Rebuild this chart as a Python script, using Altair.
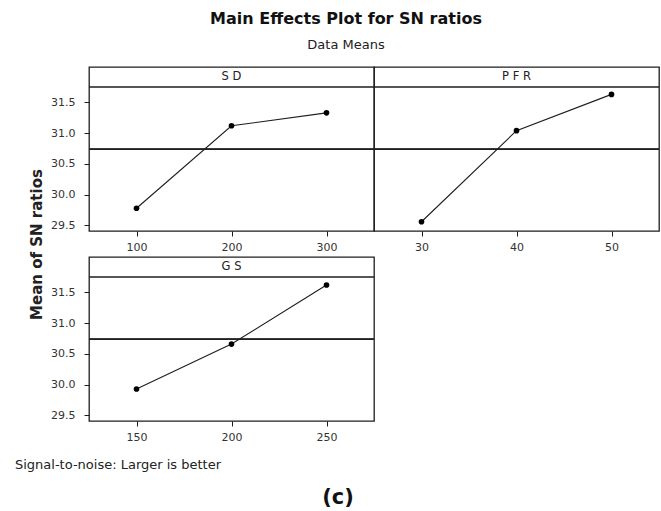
import altair as alt
import pandas as pd

# ---- data ----
factors = ["SD", "PFR", "GS"]
sd_levels = [100, 200, 300]
sd_sn = [29.78, 31.12, 31.33]
pfr_levels = [30, 40, 50]
pfr_sn = [29.56, 31.04, 31.63]
gs_levels = [150, 200, 250]
gs_sn = [29.93, 30.66, 31.62]
grand_mean = 30.74
y_ticks = [29.5, 30.0, 30.5, 31.0, 31.5]
y_domain = [29.41, 31.75]
x_domains = {"SD": [50, 350], "PFR": [25, 55], "GS": [125, 275]}

FONT = "DejaVu Sans"
INK = "#1e1e1e"
PW, PH, HH = 285, 144, 20
BOX = alt.ViewBackground(stroke=INK, strokeWidth=1.3)
NOBOX = alt.ViewBackground(strokeOpacity=0)


def panel(name, levels, sn, show_y):
    df = pd.DataFrame({"level": levels, "sn": sn})
    x = alt.X(
        "level:Q",
        scale=alt.Scale(domain=x_domains[name], nice=False, zero=False),
        axis=alt.Axis(values=levels, format="d", title=None, domain=False, grid=False,
                      tickSize=5, tickColor=INK, labelPadding=5, labelColor="#333",
                      labelFont=FONT, labelFontSize=11),
    )
    # data area sits below the header strip of the panel
    yscale = alt.Scale(domain=y_domain, range=[HH + PH, HH], nice=False, zero=False)
    if show_y:
        yax = alt.Axis(values=y_ticks, format=".1f", title=None, domain=False, grid=False,
                       tickSize=5, tickColor=INK, labelPadding=9, labelColor="#333",
                       labelFont=FONT, labelFontSize=11)
    else:
        yax = None
    y = alt.Y("sn:Q", scale=yscale, axis=yax)
    ym = alt.Y(datum=grand_mean, scale=yscale, axis=yax)
    base = alt.Chart(df).encode(x=x, y=y)
    line = base.mark_line(color=INK, strokeWidth=1.1)
    pts = base.mark_circle(color="black", size=32, opacity=1)
    mean = alt.Chart(df).mark_rule(color=INK, strokeWidth=1.3).encode(y=ym)
    strip = pd.DataFrame({"f": [" ".join(name)]})
    sep = alt.Chart(strip).mark_rule(color=INK, strokeWidth=1.3).encode(y=alt.value(HH))
    label = (
        alt.Chart(strip)
        .mark_text(font=FONT, fontSize=11.5, color="#222")
        .encode(text="f:N", y=alt.value(HH / 2))
    )
    return alt.layer(sep, label, mean, line, pts).properties(
        width=PW, height=HH + PH, view=BOX
    )


sd_panel = panel("SD", sd_levels, sd_sn, True)
pfr_panel = panel("PFR", pfr_levels, pfr_sn, False)
gs_panel = panel("GS", gs_levels, gs_sn, True)

row1 = alt.hconcat(sd_panel, pfr_panel, spacing=0, bounds="flush")
main = alt.vconcat(row1, gs_panel, spacing=3)

ytitle = (
    alt.Chart(pd.DataFrame({"t": ["Mean of SN ratios"]}))
    .mark_text(angle=270, baseline="top", font=FONT, fontSize=15, fontWeight="bold", color="#222")
    .encode(text="t:N")
    .properties(width=30, height=355, view=NOBOX)
)
body = alt.hconcat(ytitle, main, spacing=4)

footer1 = (
    alt.Chart(pd.DataFrame({"t": ["Signal-to-noise: Larger is better"]}))
    .mark_text(align="left", baseline="middle", font=FONT, fontSize=13, color="#222")
    .encode(text="t:N", x=alt.value(0))
    .properties(width=300, height=24, view=NOBOX)
)
footer2 = (
    alt.Chart(pd.DataFrame({"t": ["(c)"]}))
    .mark_text(baseline="middle", dy=-8, font=FONT, fontSize=21, fontWeight="bold", color="#111")
    .encode(text="t:N")
    .properties(width=646, height=10, view=NOBOX)
)

chart = (
    alt.vconcat(body, footer1, footer2, spacing=10)
    .properties(
        title=alt.TitleParams(
            text="Main Effects Plot for SN ratios",
            subtitle="Data Means",
            font=FONT, fontSize=16, fontWeight="bold", color="#111",
            subtitleFont=FONT, subtitleFontSize=13, subtitleColor="#222",
            anchor="middle", offset=14, subtitlePadding=12, dx=8,
        ),
        padding={"left": 15, "top": 11, "right": 0, "bottom": 0},
        background="white",
    )
)

chart.save("out.html", embed_options={"renderer": "svg", "actions": False})
